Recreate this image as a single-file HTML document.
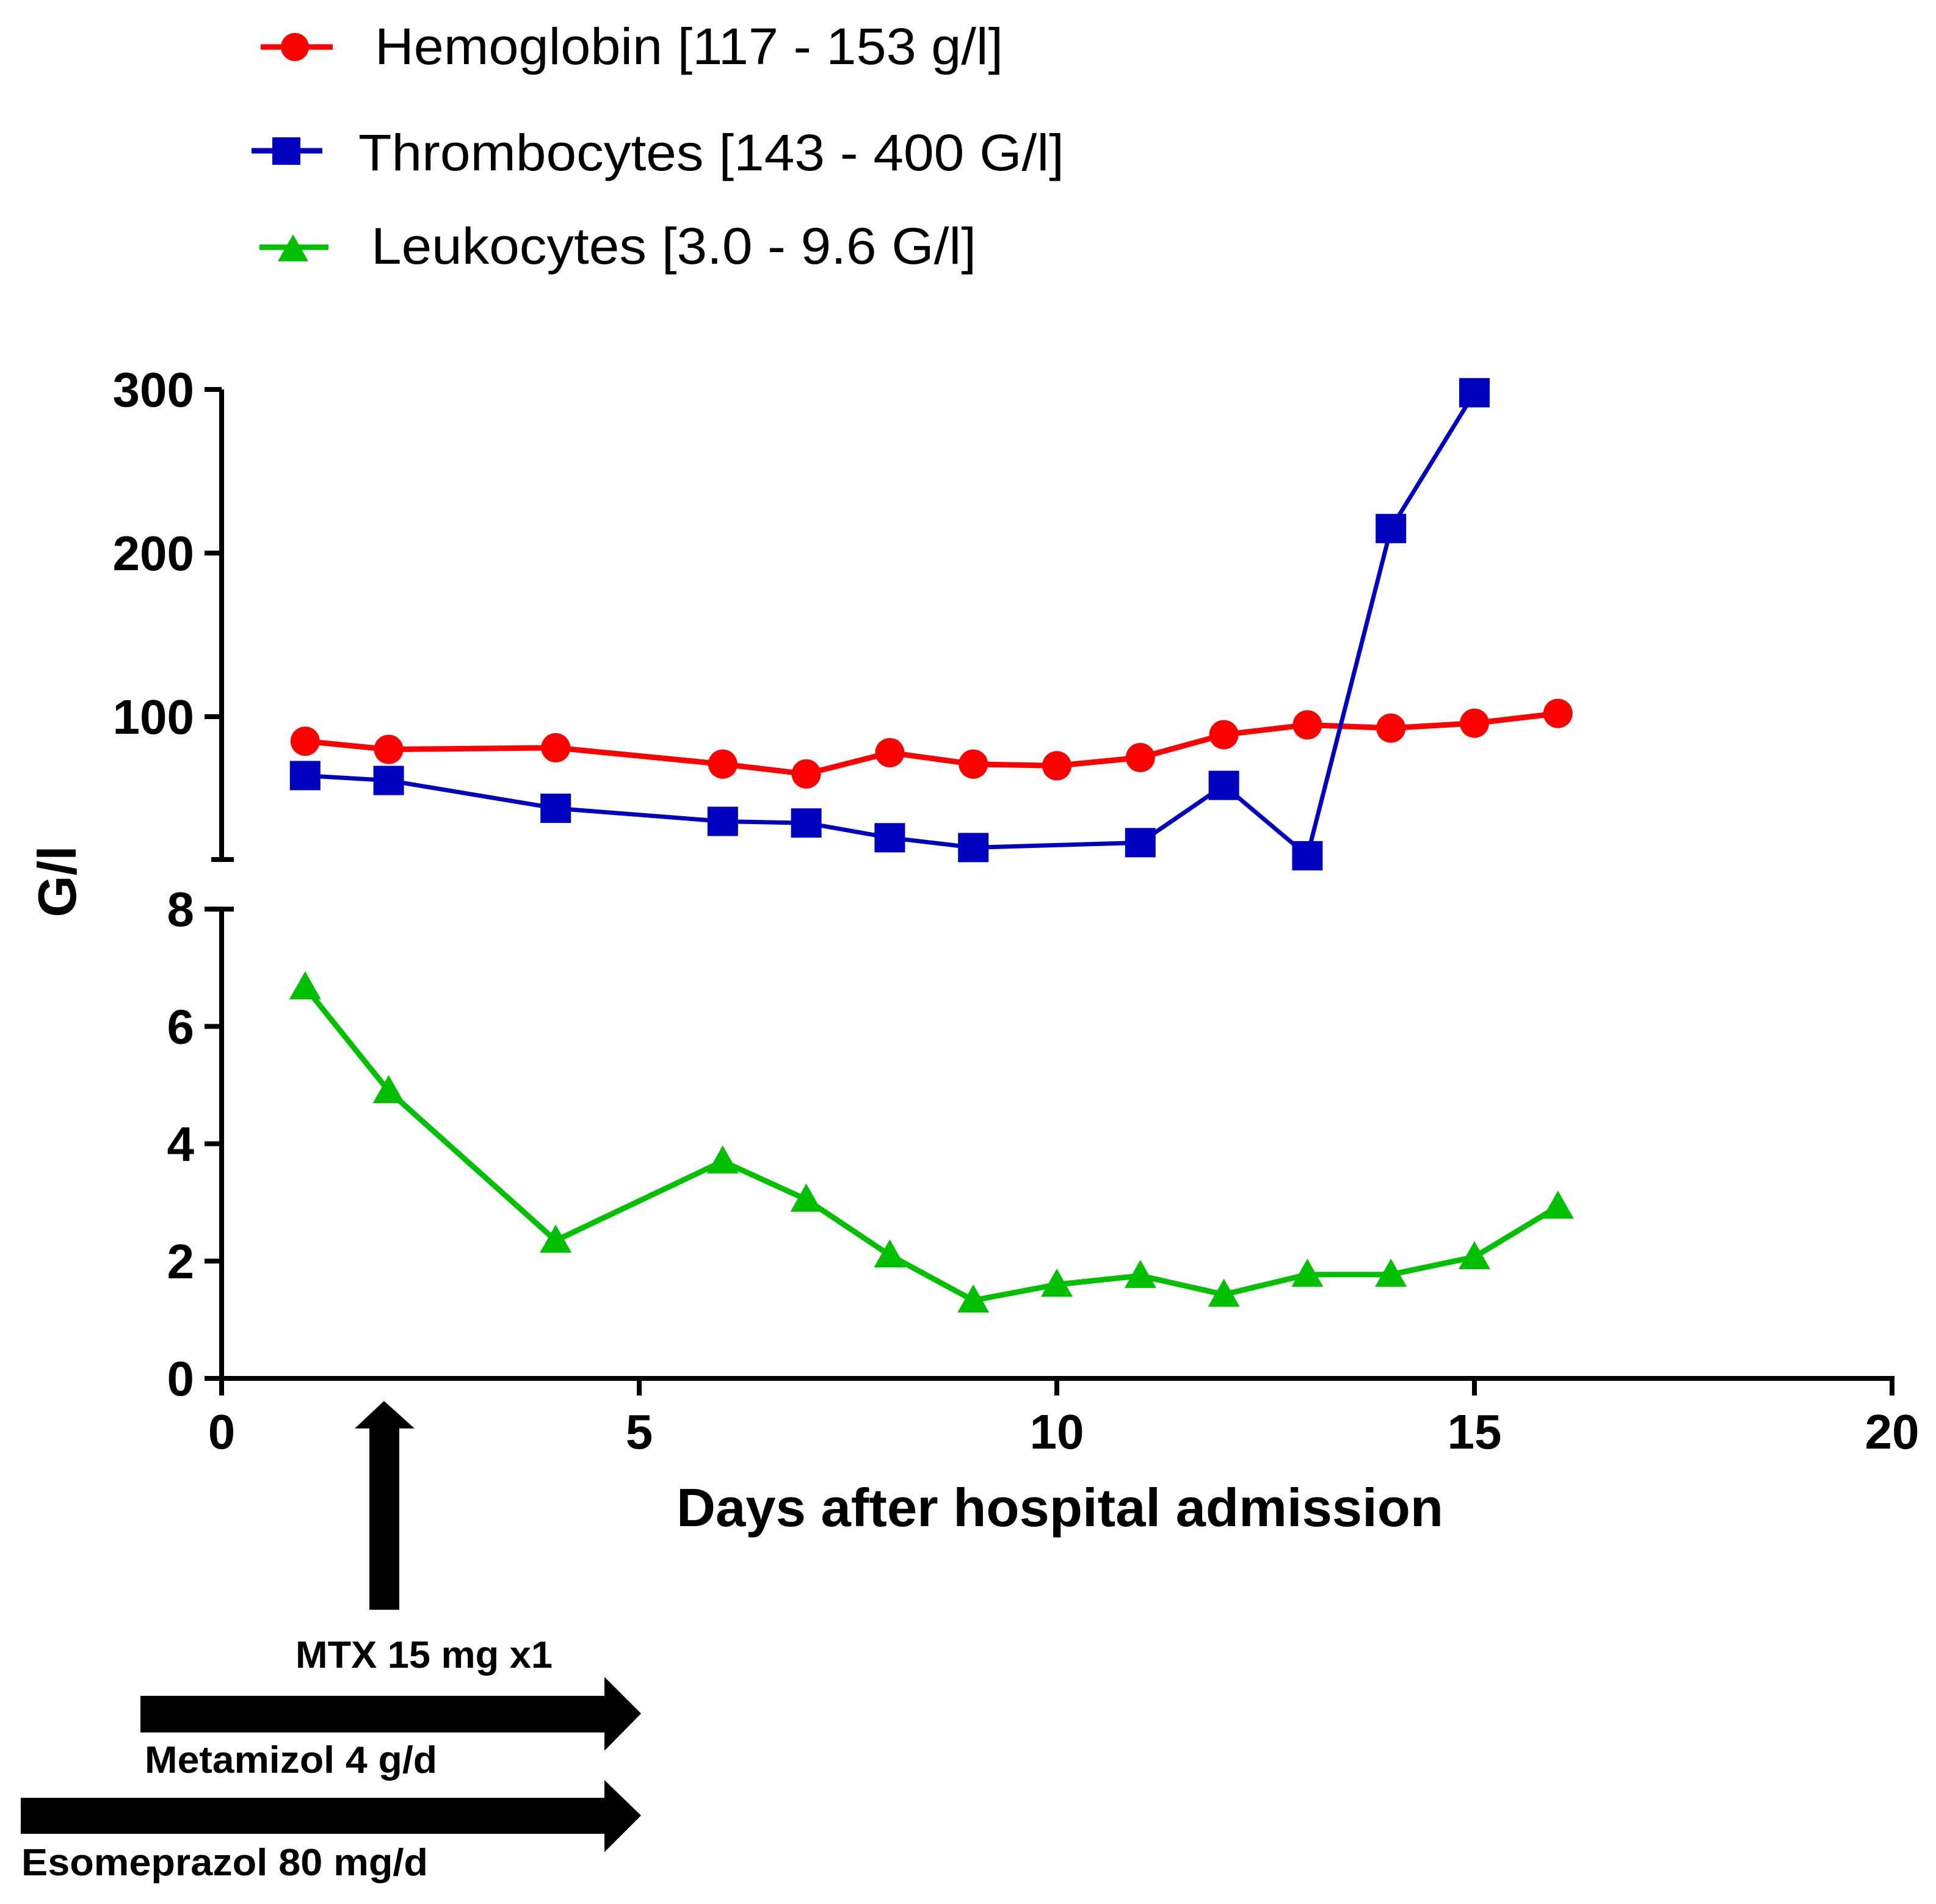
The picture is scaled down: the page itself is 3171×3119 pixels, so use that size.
<!DOCTYPE html>
<html><head><meta charset="utf-8"><style>
html,body{margin:0;padding:0;background:#fff;}
svg{display:block;}
text{font-family:"Liberation Sans",Arial,sans-serif;}
</style></head><body>
<svg id="chart" width="3171" height="3119" viewBox="0 0 3171 3119" xmlns="http://www.w3.org/2000/svg">
<g id="legend">
 <g>
  <line x1="427" y1="77" x2="545" y2="77" stroke="#ff0000" stroke-width="9"/>
  <circle cx="483" cy="77" r="23" fill="#ff0000"/>
  <text x="614" y="105" font-size="84" textLength="1029" lengthAdjust="spacingAndGlyphs" fill="#000">Hemoglobin [117 - 153 g/l]</text>
 </g>
 <g>
  <line x1="412" y1="247" x2="528" y2="247" stroke="#0000c0" stroke-width="9"/>
  <rect x="446" y="225" width="46" height="45" fill="#0000c0"/>
  <text x="587" y="279" font-size="84" textLength="1156" lengthAdjust="spacingAndGlyphs" fill="#000">Thrombocytes [143 - 400 G/l]</text>
 </g>
 <g>
  <line x1="425" y1="405" x2="538" y2="405" stroke="#00c000" stroke-width="9"/>
  <polygon points="480,384 505,428 455,428" fill="#00c000"/>
  <text x="608" y="432" font-size="84" textLength="991" lengthAdjust="spacingAndGlyphs" fill="#000">Leukocytes [3.0 - 9.6 G/l]</text>
 </g>
</g>
<g id="axes"></g>
<g id="series"></g>
<g id="annot">
 <polygon points="629,2295 679,2340 654,2340 654,2637 605,2637 605,2340 581,2340" fill="#000"/>
 <text x="484" y="2732" font-size="62" font-weight="bold" textLength="421" lengthAdjust="spacingAndGlyphs">MTX 15 mg x1</text>
 <polygon points="230,2778 990,2778 990,2747 1050,2807 990,2868 990,2838 230,2838" fill="#000"/>
 <text x="237" y="2904" font-size="62" font-weight="bold" textLength="479" lengthAdjust="spacingAndGlyphs">Metamizol 4 g/d</text>
 <polygon points="34,2945 990,2945 990,2916 1050,2974 990,3034 990,3004 34,3004" fill="#000"/>
 <text x="35" y="3072" font-size="62" font-weight="bold" textLength="666" lengthAdjust="spacingAndGlyphs">Esomeprazol 80 mg/d</text>
</g>
</svg>
<script>
const days = [1,2,4,6,7,8,9,10,11,12,13,14,15,16];
const hemoglobin = [85,80,81,71,65,78,71,70,75,89,95,93,96,102];
const thrombDays = [1,2,4,6,7,8,9,11,12,13,14,15];
const thrombocytes = [64,61,44,36,35,26,20,23,58,15,215,298];
const leukocytes = [6.67,4.9,2.35,3.7,3.05,2.1,1.33,1.6,1.75,1.43,1.77,1.77,2.07,2.93];
const xTicks = [0,5,10,15,20];
const upperTicks = [100,200,300];
const lowerTicks = [0,2,4,6,8];

const NS = "http://www.w3.org/2000/svg";
const X0 = 363, XS = 136.8;
const xPos = d => X0 + d*XS;
const yUp = v => 1174 - (v-100)*2.68;
const yLow = v => 2258 - v*96.1;
const UP_BOTTOM = 1408;

function mk(tag, attrs, parent){
  const e = document.createElementNS(NS, tag);
  for (const k in attrs) e.setAttribute(k, attrs[k]);
  parent.appendChild(e); return e;
}
const axes = document.getElementById('axes');
const ser = document.getElementById('series');
const ax = {stroke:'#000','stroke-width':8,fill:'none'};

let a = mk('path', Object.assign({d:`M${X0},${yUp(300)} V${UP_BOTTOM} M346,${UP_BOTTOM} H383`}, ax), axes);


upperTicks.forEach(v=>{
  const t = mk('line',{x1:335,x2:X0,y1:yUp(v),y2:yUp(v),stroke:'#000','stroke-width':8},axes);
  
  
  const l = mk('text',{x:318,y:yUp(v)+28,'font-size':80,'font-weight':'bold','text-anchor':'end'},axes);
  l.textContent = v;
  
  
});
a = mk('path', Object.assign({d:`M346,${yLow(8)} H383 M${X0},${yLow(8)} V${yLow(0)}`}, ax), axes);


lowerTicks.forEach(v=>{
  const t = mk('line',{x1:335,x2:X0,y1:yLow(v),y2:yLow(v),stroke:'#000','stroke-width':8},axes);
  
  
  const l = mk('text',{x:318,y:yLow(v)+28,'font-size':80,'font-weight':'bold','text-anchor':'end'},axes);
  l.textContent = v;
  
  
});
a = mk('line',{x1:X0-4,x2:xPos(20)+4,y1:yLow(0),y2:yLow(0),stroke:'#000','stroke-width':8},axes);


xTicks.forEach(v=>{
  const t = mk('line',{x1:xPos(v),x2:xPos(v),y1:yLow(0),y2:yLow(0)+28,stroke:'#000','stroke-width':8},axes);
  
  
  const l = mk('text',{x:xPos(v),y:2373,'font-size':80,'font-weight':'bold','text-anchor':'middle'},axes);
  l.textContent = v;
  
  
});
let tt = mk('text',{x:1108,y:2500,'font-size':88,'font-weight':'bold',textLength:1256,lengthAdjust:'spacingAndGlyphs'},axes);
tt.textContent = 'Days after hospital admission';


tt = mk('text',{x:0,y:0,'font-size':88,'font-weight':'bold','text-anchor':'middle',transform:'translate(124,1444) rotate(-90)'},axes);
tt.textContent = 'G/l';



function line(xs, ys, color, w, name){
  const pts = xs.map((d,i)=>xPos(d)+','+ys[i]).join(' ');
  const p = mk('polyline',{points:pts,fill:'none',stroke:color,'stroke-width':w,'stroke-linejoin':'round'},ser);
  
  
}
line(days, hemoglobin.map(yUp), '#ff0000', 9, 'hemoglobin-line');
line(thrombDays, thrombocytes.map(yUp), '#0000c0', 7, 'thrombocytes-line');
line(days, leukocytes.map(yLow), '#00c000', 9, 'leukocytes-line');
days.forEach((d,i)=>{
  const c = mk('circle',{cx:xPos(d),cy:yUp(hemoglobin[i]),r:24,fill:'#ff0000'},ser);
  
  
});
thrombDays.forEach((d,i)=>{
  const r = mk('rect',{x:xPos(d)-25,y:yUp(thrombocytes[i])-24,width:50,height:48,fill:'#0000c0'},ser);
  
  
});
days.forEach((d,i)=>{
  const x = xPos(d), y = yLow(leukocytes[i]);
  const t = mk('polygon',{points:`${x},${y-26} ${x+26},${y+20} ${x-26},${y+20}`,fill:'#00c000'},ser);
  
  
});
</script>
</body></html>
